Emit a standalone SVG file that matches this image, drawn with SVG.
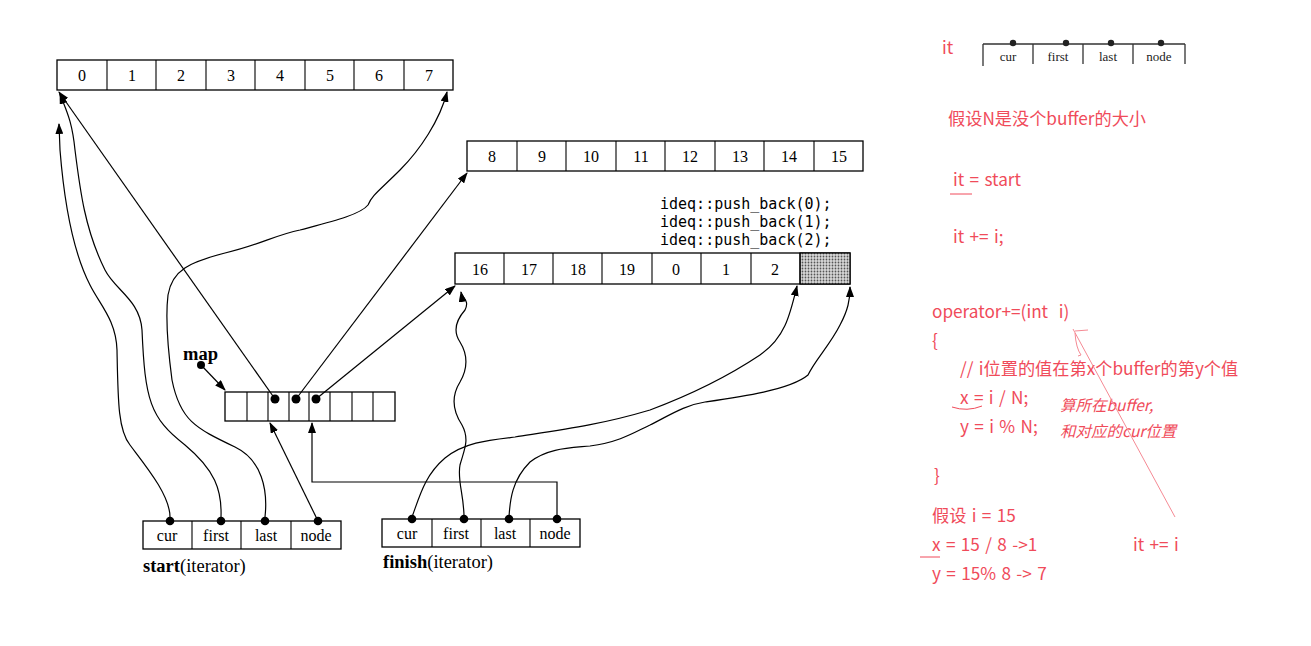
<svg xmlns="http://www.w3.org/2000/svg" width="1311" height="646" viewBox="0 0 1311 646">
<defs>
<marker id="ah" markerUnits="userSpaceOnUse" markerWidth="11" markerHeight="8" refX="10" refY="4" orient="auto">
<path d="M0,0 L11,4 L0,8 z" fill="#000"/>
</marker>
<pattern id="dots" width="3" height="3" patternUnits="userSpaceOnUse">
<rect width="3" height="3" fill="#d8d8d8"/>
<circle cx="1.5" cy="1.5" r="0.9" fill="#555"/>
</pattern>
<style>
.box{fill:#fff;stroke:#000;stroke-width:1.3}
.cl{stroke:#000;stroke-width:1.1}
.num{font-family:"Liberation Serif",serif;font-size:16px;text-anchor:middle;fill:#000}
.fld{font-family:"Liberation Serif",serif;font-size:16px;text-anchor:middle;fill:#000}
.lab{font-family:"Liberation Serif",serif;font-size:18.5px;fill:#000}
.mono{font-family:"DejaVu Sans Mono",monospace;font-size:15px;fill:#000}
.ln{fill:none;stroke:#000;stroke-width:1.2}
.arr{fill:none;stroke:#000;stroke-width:1.2;marker-end:url(#ah)}
.dot{fill:#000}
.red{font-family:"Noto Sans CJK SC","Noto Sans",sans-serif;font-size:17.2px;fill:#f04b5a;white-space:pre;word-spacing:1.5px}
.redi{font-family:"Noto Sans CJK SC","Noto Sans",sans-serif;font-size:15.5px;font-style:italic;fill:#f04b5a}
.rl{fill:none;stroke:#f04b5a;stroke-width:1}
.rlt{fill:none;stroke:#f58a94;stroke-width:1}
.mini{font-family:"Liberation Serif",serif;font-size:13px;text-anchor:middle;fill:#222}
</style>
</defs>

<g id="buffer0">
<rect class="box" x="57" y="60" width="396" height="30"/>
<path class="cl" d="M107,60V90M156,60V90M206,60V90M255,60V90M305,60V90M354,60V90M404,60V90"/>
<text class="num" x="82" y="81">0</text><text class="num" x="132" y="81">1</text><text class="num" x="181" y="81">2</text><text class="num" x="231" y="81">3</text><text class="num" x="280" y="81">4</text><text class="num" x="330" y="81">5</text><text class="num" x="379" y="81">6</text><text class="num" x="429" y="81">7</text>
</g>

<g id="buffer8">
<rect class="box" x="467" y="141" width="396" height="30"/>
<path class="cl" d="M517,141V171M566,141V171M616,141V171M665,141V171M715,141V171M764,141V171M814,141V171"/>
<text class="num" x="492" y="162">8</text><text class="num" x="542" y="162">9</text><text class="num" x="591" y="162">10</text><text class="num" x="641" y="162">11</text><text class="num" x="690" y="162">12</text><text class="num" x="740" y="162">13</text><text class="num" x="789" y="162">14</text><text class="num" x="839" y="162">15</text>
</g>

<g id="buffer16">
<rect class="box" x="455" y="253" width="395" height="31"/>
<rect x="800" y="253" width="50" height="31" fill="url(#dots)" stroke="#000" stroke-width="1.2"/>
<path class="cl" d="M504,253V284M553,253V284M602,253V284M652,253V284M701,253V284M751,253V284M800,253V284"/>
<text class="num" x="480" y="275">16</text><text class="num" x="529" y="275">17</text><text class="num" x="578" y="275">18</text><text class="num" x="627" y="275">19</text><text class="num" x="676" y="275">0</text><text class="num" x="726" y="275">1</text><text class="num" x="775" y="275">2</text>
</g>

<g id="pushback">
<text class="mono" x="660" y="209">ideq::push_back(0);</text>
<text class="mono" x="660" y="227">ideq::push_back(1);</text>
<text class="mono" x="660" y="245">ideq::push_back(2);</text>
</g>

<g id="map">
<text class="lab" x="183" y="360" font-weight="bold" font-size="17">map</text>
<circle class="dot" cx="201" cy="365" r="4"/>
<rect class="box" x="225" y="392" width="170" height="29"/>
<path class="cl" d="M247,392V421M268,392V421M289,392V421M309,392V421M330,392V421M352,392V421M373,392V421"/>
<circle class="dot" cx="275" cy="399" r="4.5"/>
<circle class="dot" cx="296" cy="399" r="4.5"/>
<circle class="dot" cx="316" cy="399" r="4.5"/>
</g>

<g id="start">
<rect class="box" x="143" y="521" width="198" height="28"/>
<path class="cl" d="M192,521V549M241,521V549M291,521V549"/>
<text class="fld" x="167" y="541">cur</text><text class="fld" x="216" y="541">first</text><text class="fld" x="266" y="541">last</text><text class="fld" x="316" y="541">node</text>
<circle class="dot" cx="170" cy="521" r="4.3"/><circle class="dot" cx="221" cy="521" r="4.3"/><circle class="dot" cx="265" cy="521" r="4.3"/><circle class="dot" cx="318" cy="521" r="4.3"/>
<text class="lab" x="143" y="572"><tspan font-weight="bold">start</tspan>(iterator)</text>
</g>

<g id="finish">
<rect class="box" x="382" y="519" width="198" height="28"/>
<path class="cl" d="M432,519V547M481,519V547M530,519V547"/>
<text class="fld" x="407" y="539">cur</text><text class="fld" x="456" y="539">first</text><text class="fld" x="505" y="539">last</text><text class="fld" x="555" y="539">node</text>
<circle class="dot" cx="412" cy="519" r="4.3"/><circle class="dot" cx="464" cy="519" r="4.3"/><circle class="dot" cx="509" cy="519" r="4.3"/><circle class="dot" cx="557" cy="519" r="4.3"/>
<text class="lab" x="383" y="568"><tspan font-weight="bold">finish</tspan>(iterator)</text>
</g>

<g id="connectors">
<path class="arr" d="M201,365 L225,390"/>
<path class="arr" d="M275,399 L59,92"/>
<path class="arr" d="M296,399 L467,173"/>
<path class="arr" d="M316,399 L455,286"/>
<path class="arr" d="M318,521 L270,423"/>
<path class="arr" d="M557,519 V482 H312 V423"/>
<path class="arr" d="M170,517 C170,495 145,465 130,445 C118,430 118,400 117,350 C116,320 100,305 90,285 C72,250 64,200 60,150 L59,124"/>
<path class="arr" d="M221,517 C222,490 215,470 185,445 C150,418 145,400 142,330 C140,300 115,290 105,270 C85,230 80,190 75,150 C72,120 66,110 60,94"/>
<path class="arr" d="M265,517 C268,490 262,460 235,447 C195,428 180,420 172,380 C168,350 165,320 168,295 C172,270 190,262 225,253 C260,245 275,235 300,230 C330,222 360,215 368,205 C372,195 380,190 400,170 C420,150 440,120 447,92"/>
<path class="arr" d="M412,517 C420,495 425,475 445,458 C465,442 490,440 515,437 C560,430 600,425 650,410 C690,395 730,375 760,355 C785,338 790,315 797,286"/>
<path class="arr" d="M464,517 C464,495 457,480 460,465 C464,450 470,440 462,425 C452,410 452,395 460,382 C468,368 468,355 460,342 C452,330 458,318 465,310 C470,300 462,298 461,292"/>
<path class="arr" d="M509,517 C510,500 512,480 530,462 C548,448 570,448 590,446 C620,442 635,432 650,425 C670,415 685,405 705,402 C740,397 790,390 808,375 C815,360 830,345 840,325 C848,310 850,300 850,287"/>
</g>

<g id="it-mini">
<text class="red" x="942" y="54" font-size="13">it</text>
<path d="M983,44 H1185 M983,44 V66 M1033,44 V64 M1083,44 V64 M1133,44 V64 M1185,44 V64" fill="none" stroke="#333" stroke-width="1.3"/>
<text class="mini" x="1008" y="61">cur</text><text class="mini" x="1058" y="61">first</text><text class="mini" x="1108" y="61">last</text><text class="mini" x="1159" y="61">node</text>
<circle cx="1013" cy="43" r="3.2" fill="#222"/><circle cx="1066" cy="43" r="3.2" fill="#222"/><circle cx="1111" cy="43" r="3.2" fill="#222"/><circle cx="1161" cy="43" r="3.2" fill="#222"/>
</g>

<g id="notes">
<text class="red" x="948" y="125">假设N是没个buffer的大小</text>
<text class="red" x="953" y="186">it = start</text>
<path class="rl" d="M950,194 H972"/>
<text class="red" x="953" y="243">it += i;</text>
<text class="red" x="932" y="318">operator+=(int  i)</text>
<text class="red" x="932" y="347">{</text>
<text class="red" x="960" y="375">// i位置的值在第x个buffer的第y个值</text>
<text class="red" x="960" y="404">x = i / N;</text>
<path class="rl" d="M952,407 Q967,412 982,406"/>
<text class="red" x="960" y="433">y = i % N;</text>
<text class="redi" x="1060" y="411">算所在buffer,</text>
<text class="redi" x="1060" y="437">和对应的cur位置</text>
<text class="red" x="934" y="482">}</text>
<text class="red" x="932" y="522">假设 i = 15</text>
<text class="red" x="932" y="551">x = 15 / 8 -&gt;1</text>
<path class="rl" d="M920,557 H940"/>
<text class="red" x="932" y="580">y = 15% 8 -&gt; 7</text>
<text class="red" x="1133" y="551">it += i</text>
<path class="rlt" d="M1175,517 L1073,329 M1075,331 L1088,330 M1075,333 Q1076,348 1081,355 L1078,356"/>
</g>
</svg>
